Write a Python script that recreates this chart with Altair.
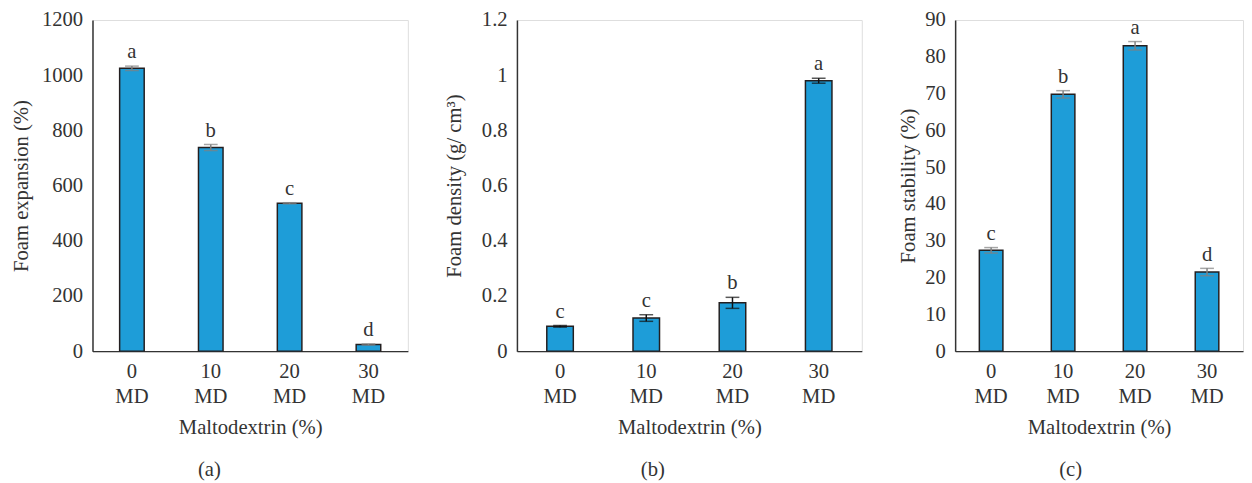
import altair as alt
import pandas as pd

categories = ["0 MD", "10 MD", "20 MD", "30 MD"]

expansion = [1025, 738, 536, 24]
expansion_err = [8, 11, 2, 2]
expansion_letters = ["a", "b", "c", "d"]

density = [0.090, 0.120, 0.175, 0.980]
density_err = [0.003, 0.012, 0.020, 0.009]
density_letters = ["c", "c", "b", "a"]

stability = [27.4, 69.8, 83.0, 21.5]
stability_err = [0.75, 1.0, 1.15, 1.0]
stability_letters = ["c", "b", "a", "d"]

FONT = "Liberation Serif"
FS = 21
TXT = "#333333"


def panel(values, errs, letters, ytitle, domain, ticks, fmt, errcolor, width, barw, tpad, label):
    df = pd.DataFrame({
        "cat": categories,
        "v": values,
        "lo": [v - e for v, e in zip(values, errs)],
        "hi": [v + e for v, e in zip(values, errs)],
        "let": letters,
    })
    yscale = alt.Scale(domain=domain, nice=False, zero=True)
    yaxis = alt.Axis(values=ticks, format=fmt, grid=False, ticks=False, domainColor="#333333",
                     domainWidth=1.5, labelPadding=10, titlePadding=tpad, labelFontSize=FS,
                     titleFontSize=FS, titleFontWeight="normal", labelColor=TXT, titleColor=TXT,
                     labelFont=FONT, titleFont=FONT)
    xaxis = alt.Axis(labelExpr="split(datum.label, ' ')", labelAngle=0, grid=False, ticks=False,
                     domainColor="#333333", domainWidth=1.5, labelPadding=10, labelLineHeight=25,
                     titlePadding=11, labelFontSize=FS, titleFontSize=FS, titleFontWeight="normal",
                     labelColor=TXT, titleColor=TXT, labelFont=FONT, titleFont=FONT)
    x = alt.X("cat:N", sort=categories, scale=alt.Scale(paddingInner=0, paddingOuter=0),
              axis=xaxis, title="Maltodextrin (%)")
    base = alt.Chart(df).encode(x=x)

    def Y(f):
        return alt.Y(f, type="quantitative", scale=yscale, axis=yaxis, title=ytitle)

    bars = base.mark_bar(width=barw, color="#1e9dd8", stroke="#231f20", strokeWidth=1.5).encode(y=Y("v"))
    rule = base.mark_rule(color=errcolor, strokeWidth=1.5).encode(y=Y("lo"), y2="hi")
    cap_lo = base.mark_tick(color=errcolor, size=14, thickness=1.5).encode(y=Y("lo"))
    cap_hi = base.mark_tick(color=errcolor, size=14, thickness=1.5).encode(y=Y("hi"))
    text = base.mark_text(baseline="bottom", dy=-4, fontSize=FS, font=FONT, color=TXT).encode(
        y=Y("hi"), text="let:N")
    return alt.layer(bars, rule, cap_lo, cap_hi, text).properties(
        width=width, height=337,
        title=alt.TitleParams(label, orient="bottom", offset=22, fontSize=FS, fontWeight="normal",
                              font=FONT, color=TXT, anchor="middle", frame="bounds"),
    )


a = panel(expansion, expansion_err, expansion_letters, "Foam expansion (%)", [0, 1200],
          list(range(0, 1201, 200)), "d", "#808080", 321, 25, 10, "(a)")
b = panel(density, density_err, density_letters, "Foam density (g/ cm³)", [0, 1.2],
          [0, 0.2, 0.4, 0.6, 0.8, 1.0, 1.2], ".1~f", "#111111", 351, 27, 17, "(b)")
c = panel(stability, stability_err, stability_letters, "Foam stability (%)", [0, 90],
          list(range(0, 91, 10)), "d", "#808080", 293, 24, 6, "(c)")

chart = alt.hconcat(a, b, c, spacing=35).properties(
    padding={"left": 2, "top": -4, "right": 0, "bottom": 0}
).configure_view(stroke=None).configure(font=FONT)

chart.save("out.html", embed_options={"renderer": "svg", "actions": False})
